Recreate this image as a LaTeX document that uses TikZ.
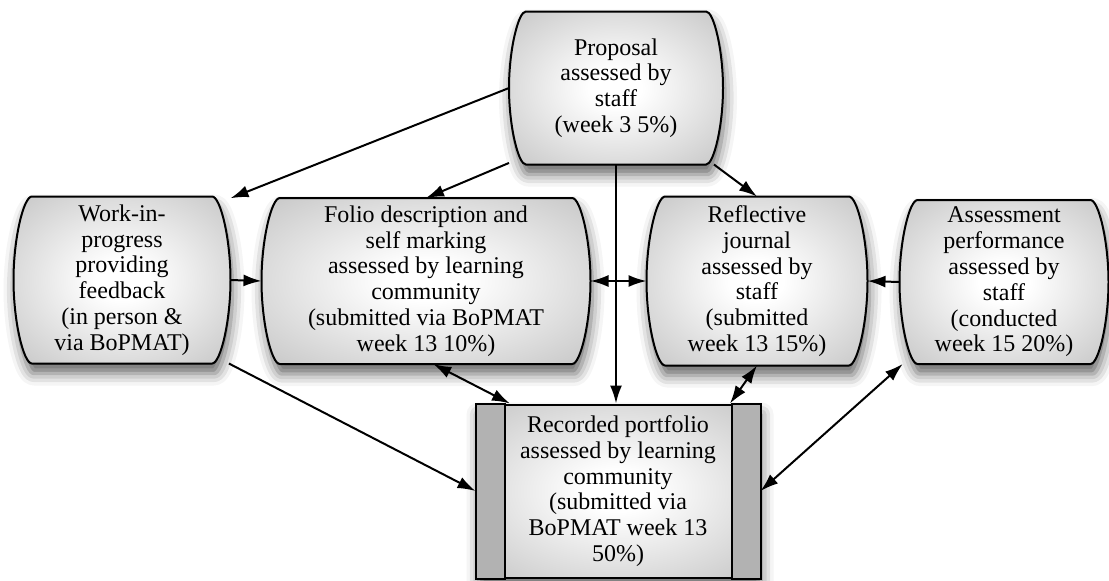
\documentclass[tikz,border=0pt]{standalone}
\usepackage{fontspec}
\setmainfont{Liberation Serif}
\usetikzlibrary{shapes.misc,arrows.meta,positioning,shadows.blur,calc}

\makeatletter
\newdimen\barrelbulge
\newdimen\brlL \newdimen\brlR \newdimen\brlT \newdimen\brlB \newdimen\brlM
\newdimen\brlLi \newdimen\brlRi \newdimen\brlLc \newdimen\brlRc
\newdimen\brlUp \newdimen\brlDn
% rectangle with flat top/bottom and bulging sides
\pgfdeclareshape{barrel}{%
  \inheritsavedanchors[from=rectangle]%
  \inheritanchorborder[from=rectangle]%
  \inheritanchor[from=rectangle]{center}%
  \inheritanchor[from=rectangle]{north}%
  \inheritanchor[from=rectangle]{south}%
  \inheritanchor[from=rectangle]{west}%
  \inheritanchor[from=rectangle]{east}%
  \inheritanchor[from=rectangle]{north west}%
  \inheritanchor[from=rectangle]{north east}%
  \inheritanchor[from=rectangle]{south west}%
  \inheritanchor[from=rectangle]{south east}%
  \inheritanchor[from=rectangle]{base}%
  \inheritanchor[from=rectangle]{mid}%
  \inheritanchor[from=rectangle]{text}%
  \backgroundpath{%
    \southwest \brlL=\pgf@x \brlB=\pgf@y
    \northeast \brlR=\pgf@x \brlT=\pgf@y
    \barrelbulge=\brlT \advance\barrelbulge by -\brlB
    \barrelbulge=.11\barrelbulge
    \brlLi=\brlL \advance\brlLi by \barrelbulge
    \brlRi=\brlR \advance\brlRi by -\barrelbulge
    \brlLc=\brlL \advance\brlLc by .55\barrelbulge
    \brlRc=\brlR \advance\brlRc by -.55\barrelbulge
    \brlM=.5\brlT \advance\brlM by .5\brlB
    \brlUp=.75\brlT \advance\brlUp by .25\brlB
    \brlDn=.25\brlT \advance\brlDn by .75\brlB
    \pgfpathmoveto{\pgfqpoint{\brlLi}{\brlT}}%
    \pgfpathlineto{\pgfqpoint{\brlRi}{\brlT}}%
    \pgfpathcurveto{\pgfqpoint{\brlRc}{\brlT}}{\pgfqpoint{\brlR}{\brlUp}}{\pgfqpoint{\brlR}{\brlM}}%
    \pgfpathcurveto{\pgfqpoint{\brlR}{\brlDn}}{\pgfqpoint{\brlRc}{\brlB}}{\pgfqpoint{\brlRi}{\brlB}}%
    \pgfpathlineto{\pgfqpoint{\brlLi}{\brlB}}%
    \pgfpathcurveto{\pgfqpoint{\brlLc}{\brlB}}{\pgfqpoint{\brlL}{\brlDn}}{\pgfqpoint{\brlL}{\brlM}}%
    \pgfpathcurveto{\pgfqpoint{\brlL}{\brlUp}}{\pgfqpoint{\brlLc}{\brlT}}{\pgfqpoint{\brlLi}{\brlT}}%
    \pgfpathclose
  }%
}
\makeatother

\pgfdeclareradialshading{nodeglow}{\pgfpoint{0bp}{0bp}}%
  {color(0bp)=(white); color(6bp)=(white); color(50bp)=(black!33)}

\tikzset{
  stage/.style={barrel, draw, line width=1pt, align=center, inner xsep=1pt, inner ysep=1pt,
    shading=nodeglow,
    blur shadow={shadow xshift=1pt, shadow yshift=-5pt, shadow blur radius=6pt, shadow opacity=60},
    font=\fontsize{12}{12.9}\selectfont},
  folio/.style={rectangle, draw, line width=1pt, align=center, inner sep=1pt,
    shading=nodeglow,
    blur shadow={shadow xshift=1pt, shadow yshift=-5pt, shadow blur radius=6pt, shadow opacity=60},
    font=\fontsize{12}{12.9}\selectfont},
  link/.style={-{Latex[length=9pt,width=6pt]}, line width=1pt},
  twolink/.style={{Latex[length=9pt,width=6pt]}-{Latex[length=9pt,width=6pt]}, line width=1pt},
}

\begin{document}
\begin{tikzpicture}[x=0.5pt, y=-0.5pt]
  \useasboundingbox (0,0) rectangle (1109,580);
  % Nodes
  \node[stage, minimum width=106pt, minimum height=75.5pt] (proposal) at (616,88)
    {Proposal\\assessed by\\staff\\(week 3 5\%)};
  \node[stage, minimum width=107.5pt, minimum height=82.5pt] (wip) at (122,280)
    {Work-in-\\progress\\providing\\feedback\\(in person \&\\via BoPMAT)};
  \node[stage, minimum width=163.5pt, minimum height=82pt] (selfmark) at (426,281)
    {Folio description and\\self marking\\assessed by learning\\community\\(submitted via BoPMAT\\week 13 10\%)};
  \node[stage, minimum width=109.5pt, minimum height=83.5pt] (journal) at (757,281)
    {Reflective\\journal\\assessed by\\staff\\(submitted\\week 13 15\%)};
  \node[stage, minimum width=103.5pt, minimum height=81pt] (perform) at (1004,282)
    {Assessment\\performance\\assessed by\\staff\\(conducted\\week 15 20\%)};
  \node[folio, minimum width=141.5pt, minimum height=86.5pt] (portfolio) at (618,491)
    {Recorded portfolio\\assessed by learning\\community\\(submitted via\\BoPMAT week 13\\50\%)};
  % Side bars of the portfolio box
  \draw[line width=1pt, fill=black!30] (portfolio.north west) rectangle ([xshift=14.5pt]portfolio.south west);
  \draw[line width=1pt, fill=black!30] (portfolio.north east) rectangle ([xshift=-14.5pt]portfolio.south east);
  % Connectors
  \draw[link] (proposal.west) -- (wip.37);
  \draw[link] (proposal.215) -- (selfmark.north);
  \draw[link] (proposal.south) -- (proposal.south |- portfolio.north);
  \draw[link] (proposal.-38) -- (journal.north);
  \draw[link] (wip.east) -- (selfmark.west);
  \draw[twolink] (selfmark.east) -- (journal.west);
  \draw[link] (perform.west) -- (journal.east);
  \draw[link] (wip.-38) -- (portfolio.west);
  \draw[twolink] (selfmark.-85) -- (portfolio.141);
  \draw[twolink] (journal.south) -- (portfolio.38);
  \draw[twolink] (perform.219) -- (portfolio.east);
\end{tikzpicture}
\end{document}
